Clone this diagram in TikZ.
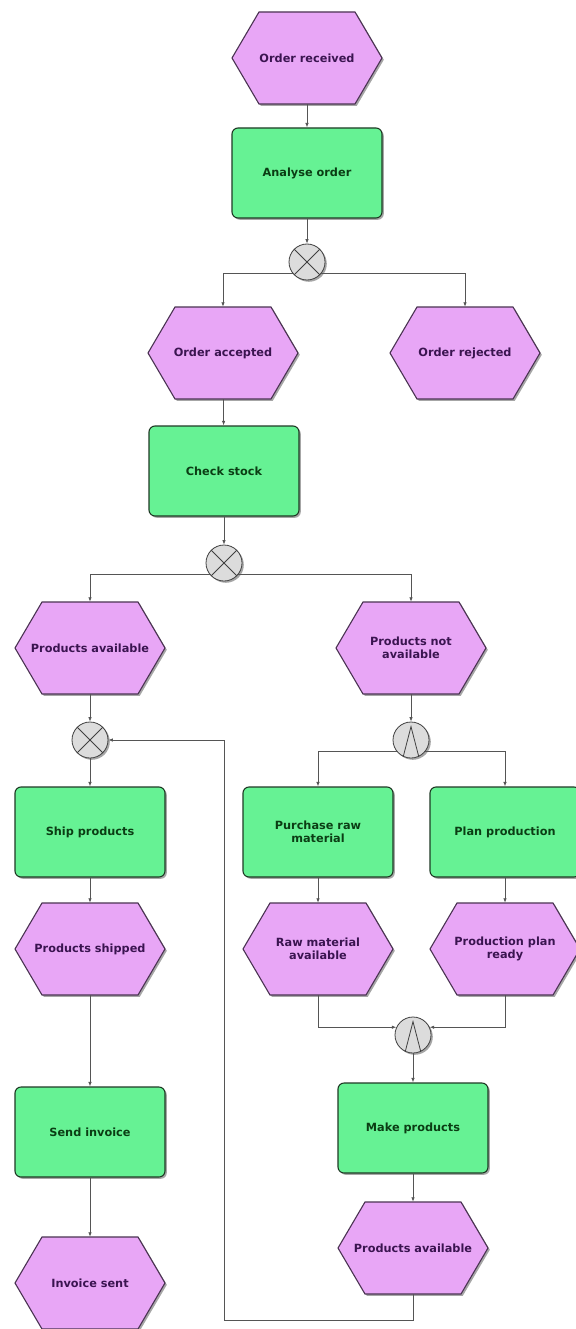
\documentclass[tikz,border=0pt]{standalone}
\usepackage{fontspec}
\setmainfont{DejaVu Sans}
\usetikzlibrary{arrows.meta,shadows}

\definecolor{evfill}{HTML}{E8A6F6}
\definecolor{evline}{HTML}{4A3352}
\definecolor{evtxt}{HTML}{3A1450}
\definecolor{fnfill}{HTML}{66F294}
\definecolor{fnline}{HTML}{1F3A25}
\definecolor{fntxt}{HTML}{0B3D14}
\definecolor{gtfill}{HTML}{DCDCDC}
\definecolor{gtline}{HTML}{404040}
\definecolor{flow}{HTML}{555555}

\tikzset{
  shade/.style={drop shadow={shadow xshift=1.8pt,shadow yshift=-1.8pt,opacity=0.35,fill=black}},
  evbody/.style={fill=evfill,draw=evline,line width=1.1pt,shade},
  event/.style={minimum width=150pt,minimum height=92pt,inner sep=0pt,align=center,
    text=evtxt,font=\bfseries\fontsize{11.3}{13.5}\selectfont},
  func/.style={rectangle,rounded corners=6pt,fill=fnfill,draw=fnline,line width=1.1pt,shade,
    minimum width=150pt,minimum height=90pt,inner sep=0pt,align=center,
    text=fntxt,font=\bfseries\fontsize{11.3}{13.5}\selectfont},
  gate/.style={circle,fill=gtfill,draw=gtline,line width=0.8pt,minimum size=36pt,inner sep=0pt,shade},
  glyph/.style={draw=gtline,line width=0.8pt},
  conn/.style={draw=flow,line width=0.8pt,-{Latex[length=4.5pt,width=3.5pt]}},
  line/.style={draw=flow,line width=0.8pt}
}

% event hexagon centred at (#1,#2)
\newcommand\evhex[2]{%
  \begin{scope}[shift={(#1,#2)}]
    \path[evbody] (-75,0) -- (-48,-46) -- (48,-46) -- (75,0) -- (48,46) -- (-48,46) -- cycle;
  \end{scope}}

% xor and and connectors
\newcommand\xorglyph[1]{\draw[glyph] (#1.45) -- (#1.225) (#1.135) -- (#1.315);}
\newcommand\andglyph[1]{\draw[glyph] (#1.245) -- ([yshift=-5pt]#1.north) -- (#1.295);}

\begin{document}
\begin{tikzpicture}[x=1pt,y=-1pt]
\useasboundingbox[fill=white] (0,0) rectangle (575,1329);

% event shapes
\evhex{307}{58}
\evhex{223}{353}
\evhex{465}{353}
\evhex{90}{648}
\evhex{411}{648}
\evhex{90}{949}
\evhex{318}{949}
\evhex{505}{949}
\evhex{90}{1283}
\evhex{413}{1248}

% events
\node[event] (or)  at (307,58)  {Order received};
\node[event] (oa)  at (223,353) {Order accepted};
\node[event] (orj) at (465,353) {Order rejected};
\node[event] (pa)  at (90,648)  {Products available};
\node[event] (pna) at (411,648) {Products not\\available};
\node[event] (ps)  at (90,949)  {Products shipped};
\node[event] (rma) at (318,949) {Raw material\\available};
\node[event] (ppr) at (505,949) {Production plan\\ready};
\node[event] (is)  at (90,1283) {Invoice sent};
\node[event] (pa2) at (413,1248) {Products available};

% functions
\node[func] (ao)  at (307,173)  {Analyse order};
\node[func] (cs)  at (224,471)  {Check stock};
\node[func] (sp)  at (90,832)   {Ship products};
\node[func] (prm) at (318,832)  {Purchase raw\\material};
\node[func] (pp)  at (505,832)  {Plan production};
\node[func] (si)  at (90,1132)  {Send invoice};
\node[func] (mp)  at (413,1128) {Make products};

% connectors
\node[gate] (x1) at (307,262) {}; \xorglyph{x1}
\node[gate] (x2) at (224,563) {}; \xorglyph{x2}
\node[gate] (x3) at (90,740)  {}; \xorglyph{x3}
\node[gate] (a1) at (411,740) {}; \andglyph{a1}
\node[gate] (a2) at (413,1035) {}; \andglyph{a2}

\coordinate (fb) at (224,1320);

% control flow
\draw[conn] (or) -- (ao);
\draw[conn] (ao) -- (x1);
\draw[conn] (x1.220) -| (oa.north);
\draw[conn] (x1.320) -| (orj.north);
\draw[conn] (oa) -- (cs);
\draw[conn] (cs) -- (x2);
\draw[conn] (x2.220) -| (pa.north);
\draw[conn] (x2.320) -| (pna.north);
\draw[conn] (pa) -- (x3);
\draw[conn] (x3) -- (sp);
\draw[conn] (pna) -- (a1);
\draw[conn] (a1.220) -| (prm.north);
\draw[conn] (a1.320) -| (pp.north);
\draw[conn] (sp) -- (ps);
\draw[conn] (ps) -- (si);
\draw[conn] (si) -- (is);
\draw[conn] (prm) -- (rma);
\draw[conn] (pp) -- (ppr);
\draw[conn] (rma.south) |- (a2.155);
\draw[conn] (ppr.south) |- (a2.25);
\draw[conn] (a2) -- (mp);
\draw[conn] (mp) -- (pa2);
\draw[line] (pa2.south) |- (fb);
\draw[conn] (fb) |- (x3.east);
\end{tikzpicture}
\end{document}
